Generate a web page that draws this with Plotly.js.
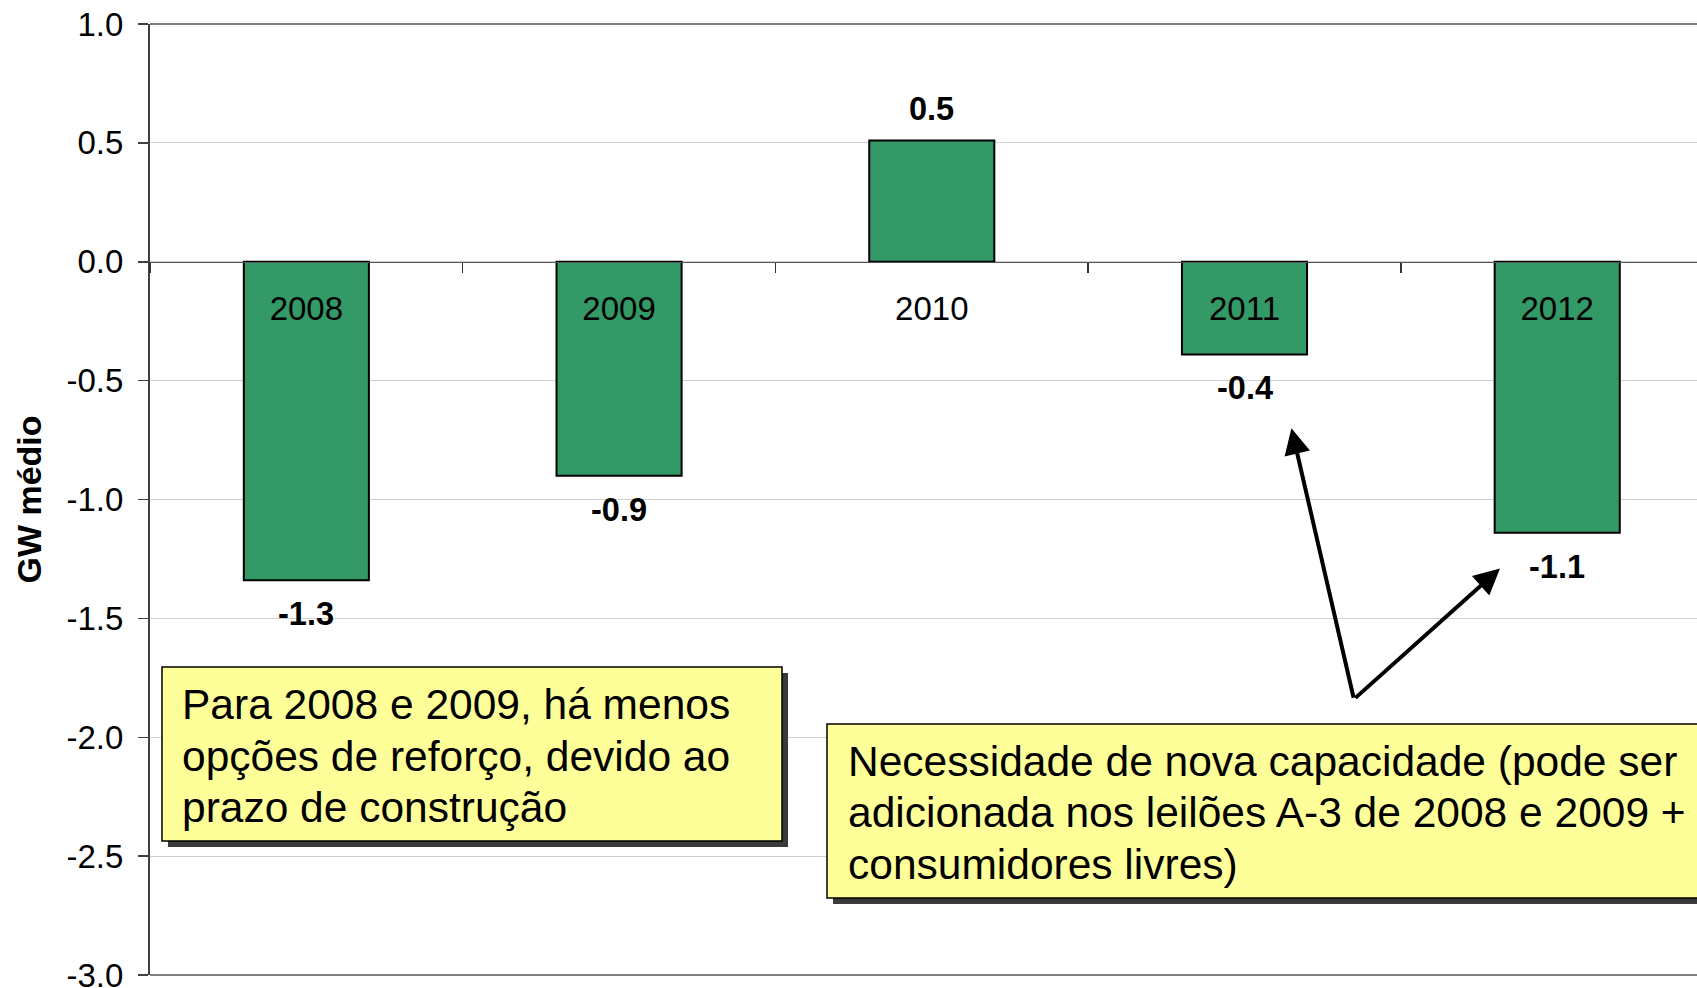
<!DOCTYPE html>
<html>
<head>
<meta charset="utf-8">
<script src="https://cdn.plot.ly/plotly-3.0.1.min.js"></script>
<style>html,body{margin:0;padding:0;background:#fff;}#chart{width:1697px;height:988px;}</style>
</head>
<body>
<div id="chart"></div>
<script>
// ---- data ----
const categories = ['2008', '2009', '2010', '2011', '2012'];
const values = [-1.34, -0.90, 0.51, -0.39, -1.14];
const yTickVals = [-3.0, -2.5, -2.0, -1.5, -1.0, -0.5, 0.0, 0.5, 1.0];
const yTickText = ['-3.0', '-2.5', '-2.0', '-1.5', '-1.0', '-0.5', '0.0', '0.5', '1.0'];
const yTitle = 'GW médio';
const note1Lines = ['Para 2008 e 2009, há menos', 'opções de reforço, devido ao', 'prazo de construção'];
const note2Lines = ['Necessidade de nova capacidade (pode ser', 'adicionada nos leilões A-3 de 2008 e 2009 +', 'consumidores livres)'];

// ---- geometry helpers (page pixels -> paper) ----
const W = 1697, H = 988;
const M = {l: 150, r: 0, t: 24, b: 13};
const PW = W - M.l - M.r, PH = H - M.t - M.b;
const px = x => (x - M.l) / PW;
const py = y => (H - M.b - y) / PH;

const FONT = 'Arial, "Liberation Sans", sans-serif';
const NOTE_SIZE = 42.5;
const LINE_PITCH = 51.7;

const trace = {
  type: 'bar',
  x: categories,
  y: values,
  width: 0.4,
  marker: {color: '#339966', line: {color: '#000000', width: 2}},
  hoverinfo: 'skip'
};

const valueLabels = categories.map((c, i) => ({
  x: i, y: values[i], xref: 'x', yref: 'y',
  text: values[i].toFixed(1),
  showarrow: false,
  yanchor: 'middle',
  yshift: values[i] >= 0 ? 32 : -34,
  font: {family: FONT, size: 32.5, color: '#000', weight: 'bold'}
}));

function box(x0, y0, x1, y1) {
  return [
    {type: 'rect', xref: 'paper', yref: 'paper', layer: 'above',
     x0: px(x0 + 6), x1: px(x1 + 6), y0: py(y1 + 6), y1: py(y0 + 6),
     fillcolor: '#3a3a3a', line: {width: 0}},
    {type: 'rect', xref: 'paper', yref: 'paper', layer: 'above',
     x0: px(x0), x1: px(x1), y0: py(y1), y1: py(y0),
     fillcolor: '#ffff99', line: {color: '#000000', width: 1.5}}
  ];
}

const shapes = [
  {type: 'line', xref: 'paper', yref: 'paper', x0: 0, x1: 1, y0: 1, y1: 1, line: {color: '#808080', width: 2}},
  {type: 'line', xref: 'paper', yref: 'paper', x0: 0, x1: 1, y0: 0, y1: 0, line: {color: '#808080', width: 2}},
  ...box(162, 667, 782, 841),
  ...box(827, 724, 1715, 898)
];

const tail = {x: 3.35, y: -1.84};
const arrows = [
  {x: 3.15, y: -0.70},
  {x: 3.817, y: -1.29}
].map(t => ({
  x: t.x, y: t.y, xref: 'x', yref: 'y',
  ax: tail.x, ay: tail.y, axref: 'x', ayref: 'y',
  text: '', showarrow: true,
  arrowhead: 2, arrowsize: 1.3, arrowwidth: 4, arrowcolor: '#000'
}));

function noteLines(lines, xLeft, firstBaseline) {
  return lines.map((t, i) => ({
    xref: 'paper', yref: 'paper',
    x: px(xLeft), y: py(firstBaseline + i * LINE_PITCH - 0.94 * NOTE_SIZE),
    xanchor: 'left', yanchor: 'top',
    text: t, showarrow: false, align: 'left', borderpad: 0,
    font: {family: FONT, size: NOTE_SIZE, color: '#000'}
  }));
}

const notes = [
  ...noteLines(note1Lines, 180.5, 720),
  ...noteLines(note2Lines, 846.5, 776.7)
];

const layout = {
  width: W, height: H,
  margin: M,
  paper_bgcolor: '#ffffff', plot_bgcolor: '#ffffff',
  showlegend: false,
  font: {family: FONT, color: '#000'},
  xaxis: {
    type: 'category',
    range: [-0.5, 4.447],
    anchor: 'free', position: 0.75,
    showline: true, linecolor: '#555555', linewidth: 1.5,
    ticks: 'outside', tickson: 'boundaries', ticklen: 10, tickwidth: 1.5, tickcolor: '#333',
    showgrid: false, zeroline: false,
    tickfont: {family: FONT, size: 33, color: '#000'},
    ticklabelstandoff: 17,
    fixedrange: true
  },
  yaxis: {
    range: [-3, 1],
    tickvals: yTickVals, ticktext: yTickText,
    showline: true, linecolor: '#404040', linewidth: 2,
    ticks: 'outside', ticklen: 10, tickwidth: 1.5, tickcolor: '#404040',
    showgrid: true, gridcolor: '#d0d0d0', gridwidth: 1,
    zeroline: false,
    tickfont: {family: FONT, size: 33, color: '#000'},
    ticklabelstandoff: 8,
    ticklabeloverflow: 'allow',
    title: {text: yTitle, standoff: 15, font: {family: FONT, size: 34, color: '#000', weight: 'bold'}},
    fixedrange: true
  },
  shapes: shapes,
  annotations: [...valueLabels, ...arrows, ...notes]
};

Plotly.newPlot('chart', [trace], layout, {displayModeBar: false, staticPlot: true});
</script>
</body>
</html>
